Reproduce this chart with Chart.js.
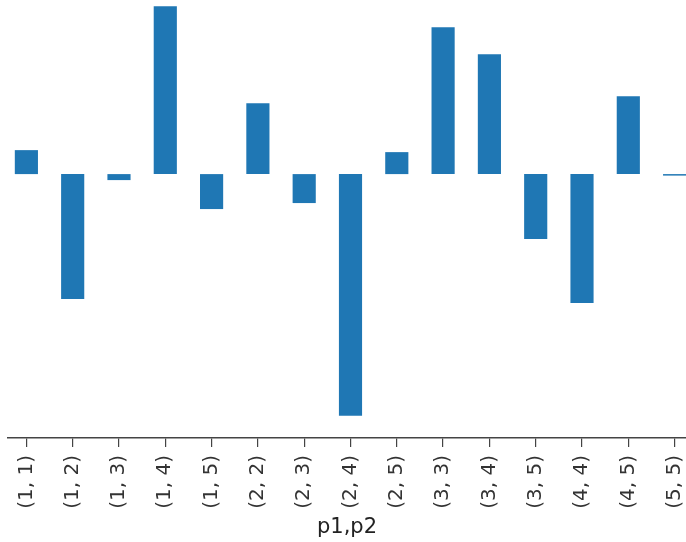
<!DOCTYPE html>
<html>
<head>
<meta charset="utf-8">
<script src="https://cdn.jsdelivr.net/npm/chart.js@4/dist/chart.umd.min.js"></script>
<style>
  html, body { margin: 0; padding: 0; background: #fff; overflow: hidden; }
  #wrap { width: 686px; height: 542px; }
</style>
</head>
<body>
<div id="wrap"><canvas id="c" width="686" height="542"></canvas></div>
<script>
// (p1, p2) pairs along the x axis
const categories = ['(1, 1)', '(1, 2)', '(1, 3)', '(1, 4)', '(1, 5)',
                    '(2, 2)', '(2, 3)', '(2, 4)', '(2, 5)',
                    '(3, 3)', '(3, 4)', '(3, 5)',
                    '(4, 4)', '(4, 5)',
                    '(5, 5)'];
// one value per pair
const values = [0.24, -1.25, -0.06, 1.68, -0.35,
                0.71, -0.29, -2.42, 0.22,
                1.47, 1.20, -0.65,
                -1.29, 0.78,
                -0.015];
const axisTitle = 'p1,p2';

const points = categories.map((c, i) => ({ x: i, y: values[i] }));

new Chart(document.getElementById('c'), {
  type: 'bar',
  data: {
    datasets: [{
      data: points,
      backgroundColor: '#1f77b4',
      borderWidth: 0,
      barPercentage: 0.5,
      categoryPercentage: 1.0
    }]
  },
  options: {
    responsive: false,
    animation: false,
    layout: { padding: { left: 8, right: 0, top: 0, bottom: 0 } },
    plugins: { legend: { display: false }, tooltip: { enabled: false } },
    scales: {
      x: {
        type: 'linear',
        offset: false,
        min: -0.397,
        max: 14.246,
        afterFit: (scale) => {
          // fixed axis band; the outer rotated labels may run to the canvas edge
          scale.height = 104;
          scale.paddingLeft = 0;
          scale.paddingRight = 0;
        },
        border: { display: true, color: '#444', width: 1.5 },
        grid: { display: true, offset: false, drawOnChartArea: false, drawTicks: true, tickLength: 9, color: '#444', lineWidth: 1.2 },
        ticks: {
          stepSize: 1,
          includeBounds: false,
          autoSkip: false,
          minRotation: 90,
          maxRotation: 90,
          padding: 8,
          color: '#333',
          font: { family: 'DejaVu Sans', size: 20 },
          callback: (v) => (Number.isInteger(v) && categories[v] !== undefined) ? categories[v] : ''
        },
        title: {
          display: true,
          text: axisTitle,
          color: '#222',
          font: { family: 'DejaVu Sans', size: 21 },
          padding: { top: 0, bottom: 2 }
        }
      },
      y: {
        display: false,
        min: -2.642,
        max: 1.743
      }
    }
  }
});
</script>
</body>
</html>
